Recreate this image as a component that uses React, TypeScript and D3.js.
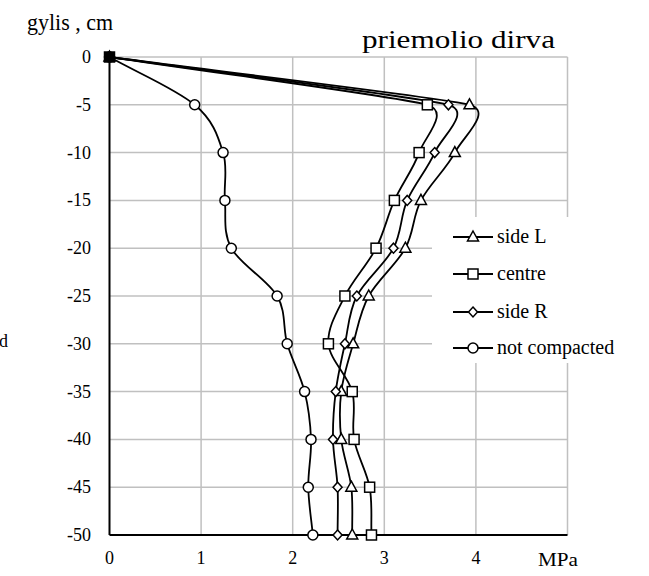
import React from "react";
import * as d3 from "d3";

const depths = [0, -5, -10, -15, -20, -25, -30, -35, -40, -45, -50];
const sideL = [0, 3.93, 3.77, 3.4, 3.23, 2.83, 2.66, 2.53, 2.53, 2.64, 2.65];
const centre = [0, 3.47, 3.38, 3.11, 2.91, 2.57, 2.39, 2.65, 2.67, 2.84, 2.86];
const sideR = [0, 3.7, 3.55, 3.25, 3.1, 2.7, 2.57, 2.47, 2.44, 2.49, 2.49];
const notCompacted = [0, 0.93, 1.24, 1.26, 1.33, 1.83, 1.94, 2.13, 2.2, 2.17, 2.22];
const xTicks = [0, 1, 2, 3, 4];
const yTicks = [0, -5, -10, -15, -20, -25, -30, -35, -40, -45, -50];
const seriesNames = ["side L", "centre", "side R", "not compacted"];
const seriesMarkers = ["triangle", "square", "diamond", "circle"];

const W = 649;
const H = 576;
const FONT = "'Liberation Serif', Tinos, 'Times New Roman', Times, 'DejaVu Serif', serif";
const ts = { fontFamily: FONT };

// Excel-like smoothed line: Bezier segments, tangents (P[i+1]-P[i-1])/6, limited by adjacent segment lengths
function smoothPath(pts: [number, number][]): string {
  const p = d3.path();
  const n = pts.length;
  const tan: [number, number][] = pts.map((pt, i) => {
    if (i === 0 || i === n - 1) return [0, 0];
    let tx = (pts[i + 1][0] - pts[i - 1][0]) / 6;
    let ty = (pts[i + 1][1] - pts[i - 1][1]) / 6;
    const dPrev = Math.hypot(pt[0] - pts[i - 1][0], pt[1] - pts[i - 1][1]);
    const dNext = Math.hypot(pts[i + 1][0] - pt[0], pts[i + 1][1] - pt[1]);
    const len = Math.hypot(tx, ty);
    const lim = 0.5 * Math.min(dPrev, dNext);
    if (len > lim && len > 0) {
      tx *= lim / len;
      ty *= lim / len;
    }
    return [tx, ty];
  });
  p.moveTo(pts[0][0], pts[0][1]);
  for (let i = 0; i < n - 1; i++) {
    const a = pts[i];
    const b = pts[i + 1];
    const c1: [number, number] =
      i === 0 ? [a[0] + (b[0] - a[0]) / 3, a[1] + (b[1] - a[1]) / 3] : [a[0] + tan[i][0], a[1] + tan[i][1]];
    const c2: [number, number] =
      i + 1 === n - 1 ? [b[0] - (b[0] - a[0]) / 3, b[1] - (b[1] - a[1]) / 3] : [b[0] - tan[i + 1][0], b[1] - tan[i + 1][1]];
    p.bezierCurveTo(c1[0], c1[1], c2[0], c2[1], b[0], b[1]);
  }
  return p.toString();
}

function Marker({ type, x, y, fill }: { type: string; x: number; y: number; fill: string }) {
  const common = { fill, stroke: "#000", strokeWidth: 1.5 };
  if (type === "square") return <rect x={x - 5} y={y - 5} width={10} height={10} {...common} />;
  if (type === "circle") return <circle cx={x} cy={y} r={5} {...common} />;
  if (type === "diamond")
    return <path d={`M${x},${y - 5}L${x + 4.5},${y}L${x},${y + 5}L${x - 4.5},${y}Z`} {...common} />;
  return <path d={`M${x},${y - 6}L${x + 5.5},${y + 4}L${x - 5.5},${y + 4}Z`} {...common} />;
}

export default function App() {
  const x = d3.scaleLinear().domain([0, 5]).range([109.5, 567.5]);
  const y = d3.scaleLinear().domain([0, -50]).range([57, 535]);
  const series = [sideL, centre, sideR, notCompacted];
  const gridX = [1, 2, 3, 4, 5];
  const gridY = yTicks.filter((t) => t !== -50);
  const legend = { x0: 453, x1: 493, tx: 497, ys: [237, 274, 312, 348] };

  return (
    <svg width={W} height={H} style={{ position: "absolute", left: 0, top: 0, background: "#fff" }}>
      <rect x={0} y={0} width={W} height={H} fill="#fff" />
      {gridX.map((g) => (
        <line key={"gx" + g} x1={x(g)} x2={x(g)} y1={y(0)} y2={y(-50)} stroke="#c0c0c0" strokeWidth={1.5} />
      ))}
      {gridY.map((g) => (
        <line key={"gy" + g} x1={x(0)} x2={x(5)} y1={y(g)} y2={y(g)} stroke="#c0c0c0" strokeWidth={1.5} />
      ))}
      <rect x={432} y={217} width={200} height={146} fill="#fff" />
      <line x1={x(0)} x2={x(0)} y1={y(0)} y2={y(-50)} stroke="#000" strokeWidth={2} />
      <line x1={x(0)} x2={x(5)} y1={y(-50)} y2={y(-50)} stroke="#000" strokeWidth={2} />
      {yTicks.map((t) => (
        <text key={"yt" + t} x={91} y={y(t) + 6} textAnchor="end" fontSize={18} fill="#000" style={ts}>
          {t}
        </text>
      ))}
      {xTicks.map((t) => (
        <text key={"xt" + t} x={x(t)} y={564} textAnchor="middle" fontSize={18} fill="#000" style={ts}>
          {t}
        </text>
      ))}
      <text x={538} y={566} fontSize={19} fill="#000" style={ts} textLength={40} lengthAdjust="spacingAndGlyphs">MPa</text>
      <text x={27} y={30} fontSize={24} fill="#000" style={ts} textLength={86} lengthAdjust="spacingAndGlyphs">gylis , cm</text>
      <text x={362} y={48} fontSize={25} fill="#000" style={ts} textLength={193} lengthAdjust="spacingAndGlyphs">priemolio dirva</text>
      <text x={-1} y={347} fontSize={18} fill="#000" style={ts}>d</text>
      {series.map((s, i) => (
        <path
          key={"l" + i}
          d={smoothPath(s.map((v, j) => [x(v), y(depths[j])] as [number, number]))}
          fill="none"
          stroke="#000"
          strokeWidth={1.8}
        />
      ))}
      {series.map((s, i) =>
        s.map((v, j) => (
          <Marker key={`m${i}-${j}`} type={seriesMarkers[i]} x={x(v)} y={y(depths[j])} fill={j === 0 ? "#000" : "#fff"} />
        ))
      )}
      {seriesNames.map((n, i) => (
        <g key={"lg" + i}>
          <line x1={legend.x0} x2={legend.x1} y1={legend.ys[i]} y2={legend.ys[i]} stroke="#000" strokeWidth={1.8} />
          <Marker type={seriesMarkers[i]} x={(legend.x0 + legend.x1) / 2} y={legend.ys[i]} fill="#fff" />
          <text x={legend.tx} y={legend.ys[i] + 6} fontSize={20} fill="#000" style={ts}>
            {n}
          </text>
        </g>
      ))}
    </svg>
  );
}
